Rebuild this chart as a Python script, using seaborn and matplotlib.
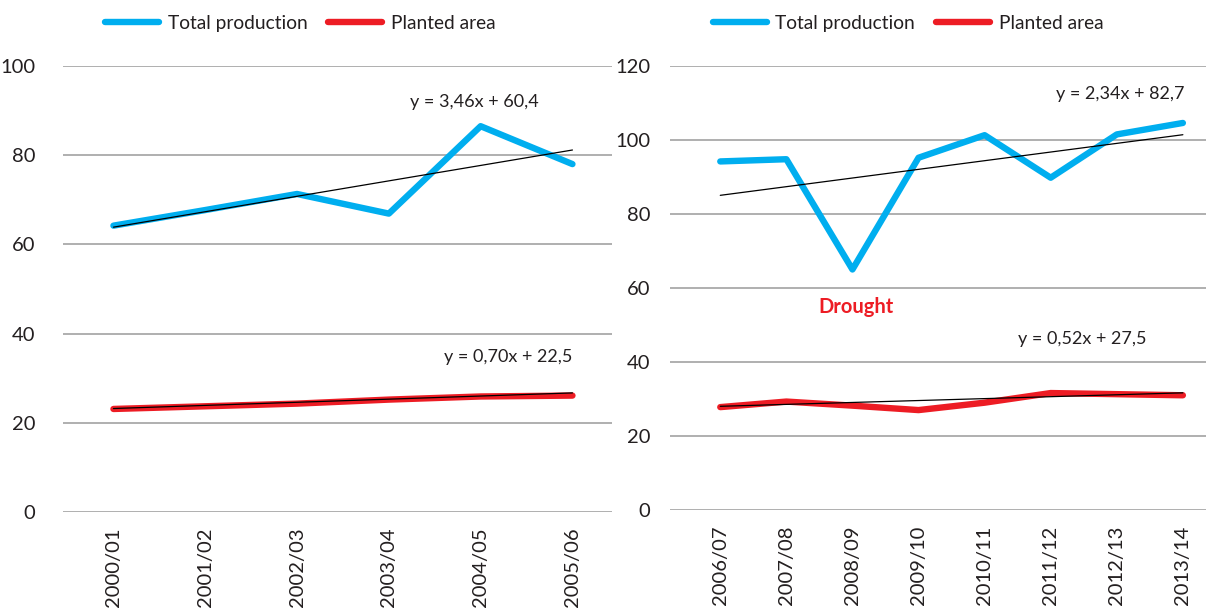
import numpy as np
import pandas as pd
import matplotlib
matplotlib.use("Agg")
import matplotlib.pyplot as plt
import seaborn as sns

# Left panel: 2000/01 - 2005/06
seasons_a = ["2000/01", "2001/02", "2002/03", "2003/04", "2004/05", "2005/06"]
production_a = [64.2, 67.7, 71.3, 66.9, 86.5, 78.0]
area_a = [23.1, 23.7, 24.3, 25.2, 25.9, 26.1]
trend_prod_a = (3.46, 60.4)
trend_area_a = (0.70, 22.5)

# Right panel: 2006/07 - 2013/14
seasons_b = ["2006/07", "2007/08", "2008/09", "2009/10", "2010/11", "2011/12", "2012/13", "2013/14"]
production_b = [94.2, 94.8, 65.0, 95.2, 101.3, 89.8, 101.5, 104.6]
area_b = [27.8, 29.3, 28.2, 27.0, 29.0, 31.6, 31.3, 31.0]
trend_prod_b = (2.34, 82.7)
trend_area_b = (0.52, 27.5)

BLUE = "#00AEEF"
RED = "#ED1C24"
GRID = "#9a9a9a"
TEXT = "#231F20"

sns.set_theme(style="white")
plt.rcParams["font.family"] = ["Lato", "DejaVu Sans"]
plt.rcParams["text.color"] = TEXT
plt.rcParams["xtick.color"] = TEXT
plt.rcParams["ytick.color"] = TEXT

fig = plt.figure(figsize=(12.06, 6.12), dpi=100)
ax1 = fig.add_axes([0.0522, 0.1634, 0.4552, 0.7288])
ax2 = fig.add_axes([0.5556, 0.1667, 0.4444, 0.7255])


def trend(coefs, n):
    slope, icpt = coefs
    x = np.arange(1, n + 1)
    return slope * x + icpt


def draw(ax, seasons, prod, area, tp, ta, ylim, yticks, xlim, ypad):
    n = len(seasons)
    df = pd.DataFrame({
        "pos": list(range(n)) * 2,
        "value": prod + area,
        "series": ["Total production"] * n + ["Planted area"] * n,
    })
    sns.lineplot(data=df, x="pos", y="value", hue="series",
                 palette={"Total production": BLUE, "Planted area": RED},
                 linewidth=4.6, ax=ax, legend=False, zorder=3)
    tdf = pd.DataFrame({
        "pos": list(range(n)) * 2,
        "value": list(trend(tp, n)) + list(trend(ta, n)),
        "series": ["tp"] * n + ["ta"] * n,
    })
    sns.lineplot(data=tdf, x="pos", y="value", units="series", estimator=None,
                 color="black", linewidth=0.9, ax=ax, legend=False, zorder=4)
    ax.set_ylim(*ylim)
    ax.set_xlim(*xlim)
    ax.set_yticks(yticks)
    ax.set_xticks(range(n))
    ax.set_xticklabels(seasons, rotation=90, fontsize=14.5)
    ax.tick_params(axis="y", labelsize=14.5, pad=ypad, length=0)
    ax.tick_params(axis="x", pad=11, length=0)
    ax.yaxis.grid(True, color=GRID, linewidth=1.1)
    ax.set_axisbelow(True)
    for s in ax.spines.values():
        s.set_visible(False)
    ax.set_xlabel("")
    ax.set_ylabel("")


draw(ax1, seasons_a, production_a, area_a, trend_prod_a, trend_area_a,
     (0, 100), [0, 20, 40, 60, 80, 100], (-0.55, 5.43), 20)
draw(ax2, seasons_b, production_b, area_b, trend_prod_b, trend_area_b,
     (0, 120), [0, 20, 40, 60, 80, 100, 120], (-0.76, 7.35), 14)

ax1.text(3.93, 92, "y = 3,46x + 60,4", fontsize=13, ha="center", va="center")
ax1.text(4.3, 34.8, "y = 0,70x + 22,5", fontsize=13, ha="center", va="center")
ax2.text(6.05, 112.5, "y = 2,34x + 82,7", fontsize=13, ha="center", va="center")
ax2.text(5.48, 46.3, "y = 0,52x + 27,5", fontsize=13, ha="center", va="center")
ax2.text(2.05, 54.8, "Drought", fontsize=14.5, color=RED, fontweight="bold",
         ha="center", va="center")

handles = [plt.Line2D([], [], color=BLUE, linewidth=4.6),
           plt.Line2D([], [], color=RED, linewidth=4.6)]
labels = ["Total production", "Planted area"]
for xa in (0.081, 0.585):
    fig.legend(handles, labels, loc="center left", bbox_to_anchor=(xa, 0.962),
               ncol=2, frameon=False, fontsize=13.8, handlelength=2.8,
               handletextpad=0.45, columnspacing=1.1, borderaxespad=0)

fig.savefig("out.png", dpi=100)
